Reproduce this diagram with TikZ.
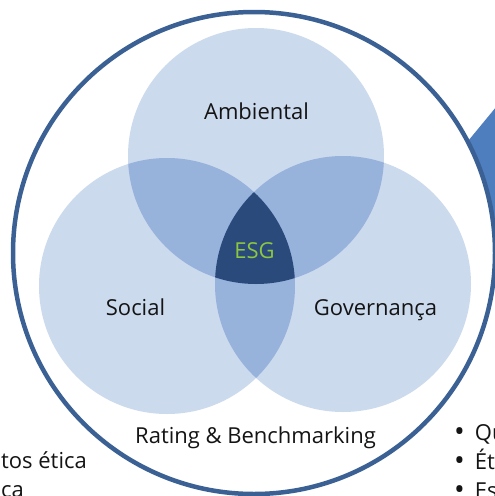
\documentclass[tikz,border=0pt]{standalone}
\usepackage{fontspec}
\setmainfont{Open Sans}
\usetikzlibrary{positioning}

\definecolor{venn}{HTML}{CCDAEE}
\definecolor{vennmid}{HTML}{97B2DB}
\definecolor{venndark}{HTML}{2B4A7C}
\definecolor{esggreen}{HTML}{8DC63F}
\definecolor{ringblue}{HTML}{3B6194}
\definecolor{arrowblue}{HTML}{4E7EBE}
\definecolor{txt}{HTML}{141414}

\newcommand{\bul}{\raisebox{-1.8pt}{\scalebox{1.3}{•}}\hspace{10pt}}

\begin{document}
\begin{tikzpicture}[x=1pt,y=-1pt,
  lbl/.style={font=\fontsize{22}{26}\selectfont,text=txt,inner sep=0pt,anchor=base}]
\useasboundingbox (0,0) rectangle (495,496);
\clip (0,0) rectangle (495,496);

% arrow shape behind the ring
\fill[arrowblue] (440,175) -- (520,78) -- (520,262) -- cycle;

% ring
\draw[fill=white,draw=ringblue,line width=4.5pt] (254,253) circle[radius=241pt];

% three sets
\fill[venn] (256,156) circle[radius=128pt];
\fill[venn] (167,286) circle[radius=128pt];
\fill[venn] (343,284) circle[radius=128pt];
\begin{scope}
\clip (256,156) circle[radius=128pt];
\fill[vennmid] (167,286) circle[radius=128pt];
\fill[vennmid] (343,284) circle[radius=128pt];
\end{scope}
\begin{scope}
\clip (167,286) circle[radius=128pt];
\fill[vennmid] (343,284) circle[radius=128pt];
\end{scope}
\begin{scope}
\clip (256,156) circle[radius=128pt];
\clip (167,286) circle[radius=128pt];
\fill[venndark] (343,284) circle[radius=128pt];
\end{scope}

% labels
\node[lbl] (amb) at (256.5,119) {Ambiental};
\node[lbl] (soc) at (135.5,315) {Social};
\node[lbl] (gov) at (375.5,315) {Governança};
\node[lbl,text=esggreen] (esg) at (254.5,258) {ESG};
\node[lbl] (rating) at (255.5,443) {Rating \& Benchmarking};

% cut-off text at the edges
\node[lbl,anchor=base east] (left1) at (87,468) {tos ética};
\node[lbl,anchor=base east] (left2) at (24,497) {ca};
\node[lbl,anchor=base west] (bul1) at (454,440) {\bul Qu};
\node[lbl,anchor=base west] (bul2) at (454,469) {\bul Ét};
\node[lbl,anchor=base west] (bul3) at (454,498) {\bul Es};

\end{tikzpicture}
\end{document}
